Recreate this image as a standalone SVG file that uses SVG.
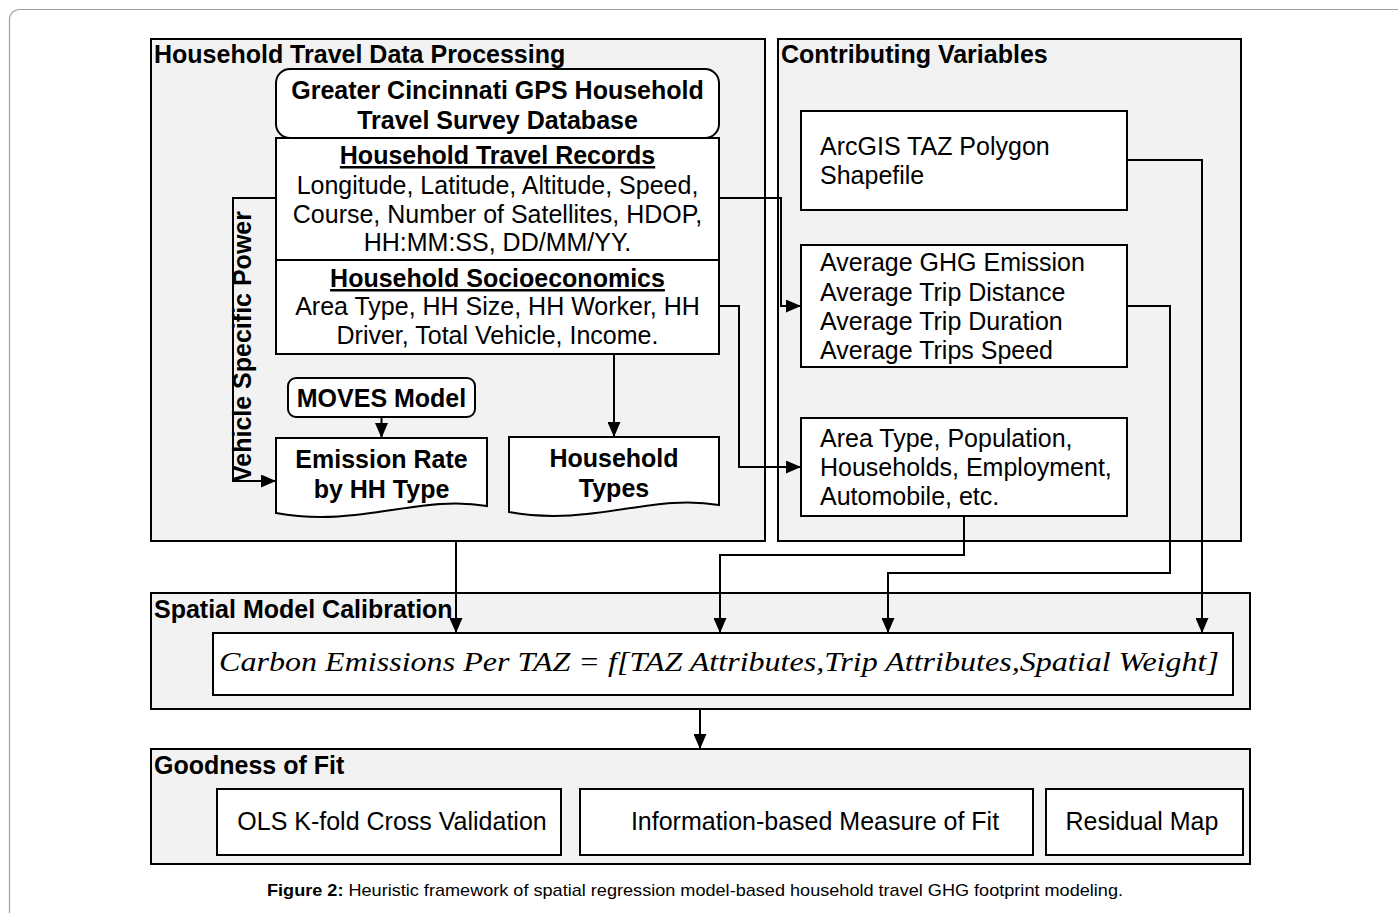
<svg xmlns="http://www.w3.org/2000/svg" width="1398" height="913" viewBox="0 0 1398 913">
<style>
.t{font-family:"Liberation Sans",Arial,sans-serif;font-size:25px;fill:#000}
.b{font-weight:bold}
.c{text-anchor:middle}
.u{text-decoration:underline}
.sec{fill:#f2f2f2;stroke:#000;stroke-width:2}
.box{fill:#fff;stroke:#000;stroke-width:2}
.ln{fill:none;stroke:#000;stroke-width:2;marker-end:url(#ah)}
.f{font-family:"Liberation Serif","Times New Roman",serif;font-style:italic;font-size:27px;fill:#000}
.cap{font-family:"Liberation Sans",Arial,sans-serif;font-size:17px;fill:#000}
</style>
<defs>
<marker id="ah" markerWidth="15" markerHeight="13" refX="15" refY="6.5" orient="auto" markerUnits="userSpaceOnUse"><path d="M0,0 L15,6.5 L0,13 z" fill="#000"/></marker>
</defs>
<rect x="0" y="0" width="1398" height="913" fill="#fff"/>
<rect x="9.5" y="9.5" width="1500" height="1000" rx="10" fill="#fff" stroke="#a0a0a0" stroke-width="1.2"/>

<g id="sec-processing">
<rect class="sec" x="151" y="39" width="614" height="502"/>
<text class="t b" x="154" y="63">Household Travel Data Processing</text>
</g>
<g id="sec-contributing">
<rect class="sec" x="778" y="39" width="463" height="502"/>
<text class="t b" x="781" y="63">Contributing Variables</text>
</g>
<g id="sec-spatial">
<rect class="sec" x="151" y="593" width="1099" height="116"/>
<text class="t b" x="154" y="618">Spatial Model Calibration</text>
</g>
<g id="sec-goodness">
<rect class="sec" x="151" y="749" width="1099" height="115"/>
<text class="t b" x="154" y="774">Goodness of Fit</text>
</g>

<g id="node-database">
<rect class="box" x="276" y="69" width="443" height="69" rx="14"/>
<text class="t b c" x="497.5" y="99">Greater Cincinnati GPS Household</text>
<text class="t b c" x="497.5" y="129">Travel Survey Database</text>
</g>
<g id="node-records">
<rect class="box" x="276" y="138" width="443" height="122"/>
<text class="t b c u" x="497.5" y="164">Household Travel Records</text>
<text class="t c" x="497.5" y="194">Longitude, Latitude, Altitude, Speed,</text>
<text class="t c" x="497.5" y="223">Course, Number of Satellites, HDOP,</text>
<text class="t c" x="497.5" y="251">HH:MM:SS, DD/MM/YY.</text>
</g>
<g id="node-socio">
<rect class="box" x="276" y="260" width="443" height="94"/>
<text class="t b c u" x="497.5" y="287">Household Socioeconomics</text>
<text class="t c" x="497.5" y="315">Area Type, HH Size, HH Worker, HH</text>
<text class="t c" x="497.5" y="344">Driver, Total Vehicle, Income.</text>
</g>
<g id="node-moves">
<rect class="box" x="288" y="378" width="187" height="39" rx="8"/>
<text class="t b c" x="381.5" y="407">MOVES Model</text>
</g>
<g id="node-emission">
<path class="box" d="M276,438 H487 V506 C420,494 360,528 276,513 Z"/>
<text class="t b c" x="381.5" y="468">Emission Rate</text>
<text class="t b c" x="381.5" y="498">by HH Type</text>
</g>
<g id="node-hhtypes">
<path class="box" d="M509,437 H719 V505 C652,493 592,527 509,512 Z"/>
<text class="t b c" x="614" y="467">Household</text>
<text class="t b c" x="614" y="497">Types</text>
</g>
<g id="node-arcgis">
<rect class="box" x="801" y="111" width="326" height="99"/>
<text class="t" x="820" y="155">ArcGIS TAZ Polygon</text>
<text class="t" x="820" y="184">Shapefile</text>
</g>
<g id="node-average">
<rect class="box" x="801" y="245" width="326" height="122"/>
<text class="t" x="820" y="271">Average GHG Emission</text>
<text class="t" x="820" y="301">Average Trip Distance</text>
<text class="t" x="820" y="330">Average Trip Duration</text>
<text class="t" x="820" y="359">Average Trips Speed</text>
</g>
<g id="node-area">
<rect class="box" x="801" y="418" width="326" height="98"/>
<text class="t" x="820" y="447">Area Type, Population,</text>
<text class="t" x="820" y="476">Households, Employment,</text>
<text class="t" x="820" y="505">Automobile, etc.</text>
</g>
<g id="node-formula">
<rect class="box" x="213" y="633" width="1020" height="62"/>
<text class="f" x="219" y="671" textLength="1000" lengthAdjust="spacingAndGlyphs">Carbon Emissions Per TAZ = f[TAZ Attributes,Trip Attributes,Spatial Weight]</text>
</g>
<g id="node-ols">
<rect class="box" x="217" y="789" width="344" height="66"/>
<text class="t c" x="392" y="830">OLS K-fold Cross Validation</text>
</g>
<g id="node-info">
<rect class="box" x="580" y="789" width="453" height="66"/>
<text class="t c" x="815" y="830">Information-based Measure of Fit</text>
</g>
<g id="node-residual">
<rect class="box" x="1046" y="789" width="197" height="66"/>
<text class="t c" x="1142" y="830">Residual Map</text>
</g>

<g id="connectors">
<path class="ln" d="M276,198 H233 V481 H276"/>
<path class="ln" d="M381.5,417 V438"/>
<path class="ln" d="M614,354 V437"/>
<path class="ln" d="M719,198 H781 V306 H801"/>
<path class="ln" d="M719,306 H739 V467 H801"/>
<path class="ln" d="M456,541 V633"/>
<path class="ln" d="M964,516 V555 H720 V633"/>
<path class="ln" d="M1127,306 H1170 V573 H888 V633"/>
<path class="ln" d="M1127,160 H1202 V633"/>
<path class="ln" d="M700,709 V749"/>
</g>
<text class="t b" transform="translate(251,482) rotate(-90)">Vehicle Specific Power</text>

<text class="cap" x="267" y="896" textLength="856" lengthAdjust="spacingAndGlyphs"><tspan font-weight="bold">Figure 2:</tspan> Heuristic framework of spatial regression model-based household travel GHG footprint modeling.</text>
</svg>
